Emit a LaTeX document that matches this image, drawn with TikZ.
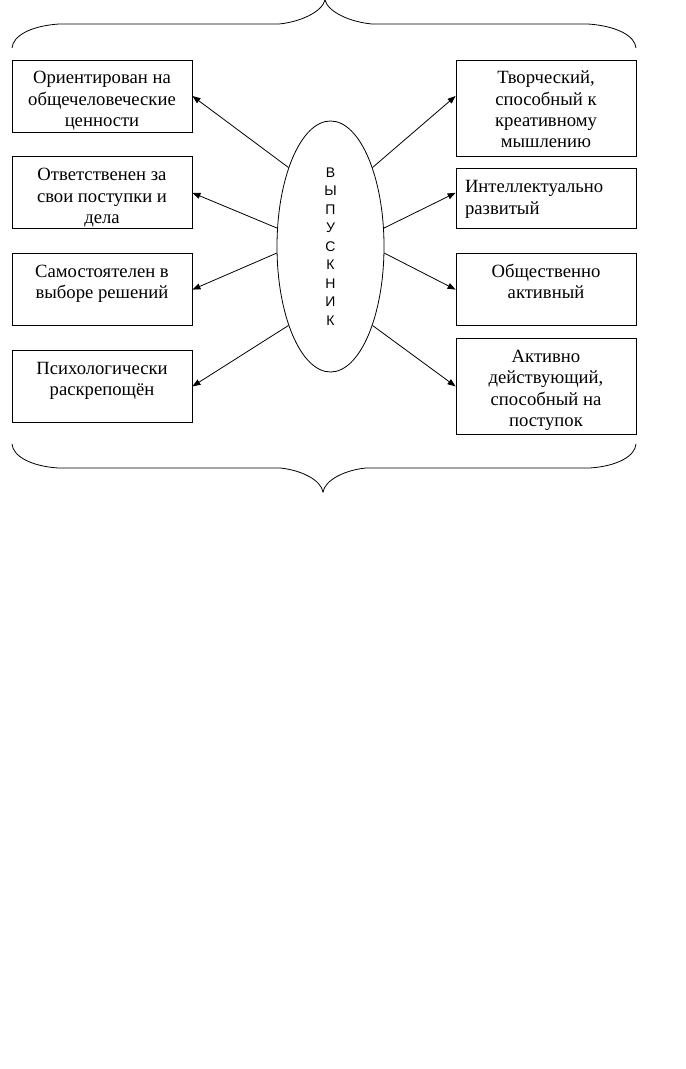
\documentclass[tikz,border=0pt]{standalone}
\usepackage{fontspec}
\setmainfont{Liberation Serif}
\newfontfamily\letterfont{Liberation Sans}
\usetikzlibrary{positioning}
\usetikzlibrary{shapes.geometric}
\usetikzlibrary{arrows.meta}
\newcommand{\qualtext}[3][\centering]{\parbox[c][#2][t]{121.5pt}{#1\rule{0pt}{18pt}#3}}

\begin{document}
\begin{tikzpicture}
    [x=0.75pt, y=-0.75pt, line width=0.6pt,
     qbox/.style={draw, inner xsep=6.75pt, inner ysep=0pt, font=\fontsize{14pt}{16pt}\selectfont},
     arr/.style={-{Triangle[length=6pt,width=4.5pt]}}]
    \useasboundingbox (0,0) rectangle (685,1069);

    \node[qbox] (l1) at (102,96) {\qualtext{54pt}{Ориентирован на\\общечеловеческие\\ценности}};
    \node[qbox] (l2) [below=18pt of l1] {\qualtext{54pt}{Ответственен за\\свои поступки и\\дела}};
    \node[qbox] (l3) [below=18pt of l2] {\qualtext{54pt}{Самостоятелен в\\выборе решений}};
    \node[qbox] (l4) [below=18pt of l3] {\qualtext{54pt}{Психологически\\раскрепощён}};

    \node[qbox] (r1) at (546,108) {\qualtext{72pt}{Творческий,\\способный к\\креативному\\мышлению}};
    \node[qbox] (r2) [below=9pt of r1] {\qualtext[\raggedright]{45pt}{Интеллектуально\\развитый}};
    \node[qbox] (r3) [below=18pt of r2] {\qualtext{54pt}{Общественно\\активный}};
    \node[qbox] (r4) [below=9pt of r3] {\qualtext{72pt}{Активно\\действующий,\\способный на\\поступок}};

    \node[draw, ellipse, minimum width=80.25pt, minimum height=188.25pt, inner sep=0pt, align=center,
          font=\letterfont\fontsize{10.5pt}{13.9pt}\selectfont] (vyp) at (330.5,246.5)
          {В\\Ы\\П\\У\\С\\К\\Н\\И\\К};

    \draw[arr] (vyp.118) -- (l1.east);
    \draw[arr] (vyp.161) -- (l2.east);
    \draw[arr] (vyp.187) -- (l3.east);
    \draw[arr] (vyp.242) -- (l4.east);
    \draw[arr] (vyp.62) -- (r1.west |- l1.east);
    \draw[arr] (vyp.19) -- (r2.west |- l2.east);
    \draw[arr] (vyp.353) -- (r3.west);
    \draw[arr] (vyp.298) -- (r4.west);

    % braces
    \draw (12,48) .. controls (13,36) and (30,26) .. (59,24) -- (279,24)
          .. controls (300,22) and (322,12) .. (325,0)
          .. controls (328,12) and (350,22) .. (372,24) -- (588,24)
          .. controls (617,26) and (635,36) .. (636,48);
    \draw (12,444) .. controls (13,456) and (30,466) .. (58,468) -- (280,468)
          .. controls (301,470) and (321,480) .. (323,492)
          .. controls (325,480) and (345,470) .. (366,468) -- (590,468)
          .. controls (618,466) and (635,456) .. (636,444);
\end{tikzpicture}
\end{document}
